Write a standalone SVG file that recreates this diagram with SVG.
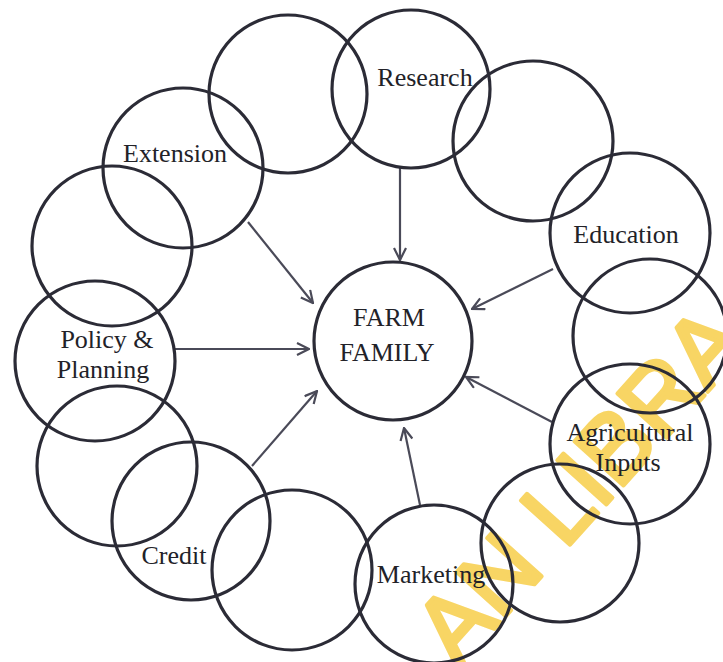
<svg xmlns="http://www.w3.org/2000/svg" width="723" height="662" viewBox="0 0 723 662">
  <style>
    .ring { fill: none; stroke: #2b2b36; stroke-width: 3.2; }
    .lbl { font-family: "Liberation Serif", "Times New Roman", serif; font-size: 26px; fill: #222228; text-anchor: middle; }
    .conn { stroke: #4a4a58; stroke-width: 2.2; fill: none; marker-end: url(#arr); }
    .wm { font-family: "Liberation Sans", Arial, sans-serif; font-size: 96px; fill: #f8d564; stroke: #f8d564; stroke-width: 4; stroke-linejoin: round; text-anchor: middle; }
  </style>
  <defs>
    <marker id="arr" viewBox="0 0 14 14" refX="13" refY="7" markerWidth="14" markerHeight="14" markerUnits="userSpaceOnUse" orient="auto">
      <path d="M1,1 L13,7 L1,13" fill="none" stroke="#4a4a58" stroke-width="2.2"/>
    </marker>
  </defs>
  <rect x="0" y="0" width="723" height="662" fill="#ffffff"/>

  <g id="watermark" transform="translate(604,507) rotate(-48)">
    <text class="wm" x="0" y="0">AN LIBRA</text>
  </g>

  <g id="connectors">
    <line class="conn" x1="400" y1="168" x2="400" y2="260"/>
    <line class="conn" x1="553" y1="269" x2="472" y2="309"/>
    <line class="conn" x1="552" y1="422" x2="466" y2="377"/>
    <line class="conn" x1="420" y1="505" x2="404" y2="428"/>
    <line class="conn" x1="248" y1="222" x2="313" y2="303"/>
    <line class="conn" x1="175" y1="349" x2="309" y2="349"/>
    <line class="conn" x1="252" y1="466" x2="317" y2="391"/>
  </g>

  <g id="farm-family">
    <circle class="ring" cx="393" cy="341" r="79"/>
    <text class="lbl" x="389" y="326">FARM</text>
    <text class="lbl" x="387" y="361">FAMILY</text>
  </g>
  <g id="ring-top"><circle class="ring" cx="288" cy="94" r="79"/></g>
  <g id="research">
    <circle class="ring" cx="411" cy="89" r="79"/>
    <text class="lbl" x="425" y="86">Research</text>
  </g>
  <g id="ring-right-top"><circle class="ring" cx="533" cy="141" r="80"/></g>
  <g id="education">
    <circle class="ring" cx="630" cy="233" r="80"/>
    <text class="lbl" x="626" y="243">Education</text>
  </g>
  <g id="ring-right"><circle class="ring" cx="650" cy="336" r="77"/></g>
  <g id="agricultural-inputs">
    <circle class="ring" cx="630" cy="444" r="80"/>
    <text class="lbl" x="630" y="441">Agricultural</text>
    <text class="lbl" x="628" y="471">Inputs</text>
  </g>
  <g id="ring-lower-right"><circle class="ring" cx="560" cy="543" r="79"/></g>
  <g id="marketing">
    <circle class="ring" cx="434" cy="584" r="79"/>
    <text class="lbl" x="431" y="583">Marketing</text>
  </g>
  <g id="ring-bottom"><circle class="ring" cx="292" cy="570" r="80"/></g>
  <g id="credit">
    <circle class="ring" cx="191" cy="521" r="79"/>
    <text class="lbl" x="174" y="564">Credit</text>
  </g>
  <g id="ring-left-lower"><circle class="ring" cx="117" cy="466" r="80"/></g>
  <g id="policy-planning">
    <circle class="ring" cx="95" cy="361" r="80"/>
    <text class="lbl" x="107" y="348">Policy &amp;</text>
    <text class="lbl" x="103" y="378">Planning</text>
  </g>
  <g id="ring-left"><circle class="ring" cx="112" cy="246" r="80"/></g>
  <g id="extension">
    <circle class="ring" cx="183" cy="168" r="80"/>
    <text class="lbl" x="175" y="162">Extension</text>
  </g>
</svg>
